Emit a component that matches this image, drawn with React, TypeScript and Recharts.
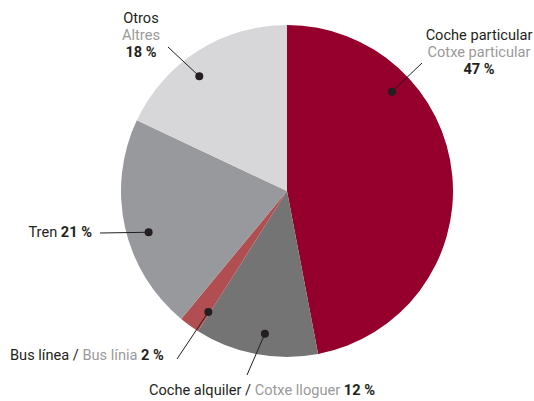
import { PieChart, Pie, Cell } from 'recharts';

// modal split, clockwise from 12 o'clock
const categories = ['Coche particular', 'Coche alquiler', 'Bus línea', 'Tren', 'Otros'];
const categoriesCa = ['Cotxe particular', 'Cotxe lloguer', 'Bus línia', '', 'Altres'];
const shares = [47, 12, 2, 21, 18];

const COLORS = ['#94002b', '#747474', '#b04e51', '#98999c', '#d7d7d9'];

const DARK = '#231f20';
const GREY = '#9a9a9a';
const FS = 14.6;

const data = categories.map((name, i) => ({ name, nameCa: categoriesCa[i], value: shares[i] }));

// where each label sits and how the leader dot is nudged off the slice's mid angle
const LABELS = [
  { angleShift: 38, end: [422, 63], layout: 'stack', x: 479, y: 40 },
  { angleShift: 2, end: [247, 375], layout: 'inline', x: 149, y: 395, anchor: 'start' },
  { angleShift: 3, end: [177, 359], layout: 'inline', x: 10, y: 360, anchor: 'start' },
  { angleShift: 4, end: [100, 233], layout: 'short', x: 92, y: 237, anchor: 'end' },
  { angleShift: 5, end: [168, 47], layout: 'stack', x: 141, y: 23 },
];

const RADIAN = Math.PI / 180;

const renderLabel = (props: any) => {
  const { cx, cy, midAngle, outerRadius, index } = props;
  const cfg = LABELS[index];
  const item = data[index];
  const a = (midAngle + cfg.angleShift) * RADIAN;
  const r = outerRadius * 0.87;
  const dx = cx + r * Math.cos(-a);
  const dy = cy + r * Math.sin(-a);

  let text;
  if (cfg.layout === 'stack') {
    text = (
      <text x={cfg.x} y={cfg.y} textAnchor="middle" fontSize={FS}>
        <tspan x={cfg.x} fill={DARK}>{item.name}</tspan>
        <tspan x={cfg.x} dy={16.8} fill={GREY}>{item.nameCa}</tspan>
        <tspan x={cfg.x} dy={16.8} fill={DARK} fontWeight="bold">{item.value} %</tspan>
      </text>
    );
  } else if (cfg.layout === 'inline') {
    text = (
      <text x={cfg.x} y={cfg.y} textAnchor={cfg.anchor} fontSize={FS}>
        <tspan fill={DARK}>{item.name} / </tspan>
        <tspan fill={GREY}>{item.nameCa} </tspan>
        <tspan fill={DARK} fontWeight="bold">{item.value} %</tspan>
      </text>
    );
  } else {
    text = (
      <text x={cfg.x} y={cfg.y} textAnchor={cfg.anchor} fontSize={FS}>
        <tspan fill={DARK}>{item.name} </tspan>
        <tspan fill={DARK} fontWeight="bold">{item.value} %</tspan>
      </text>
    );
  }

  return (
    <g key={`label-${index}`}>
      <line x1={dx} y1={dy} x2={cfg.end[0]} y2={cfg.end[1]} stroke={DARK} strokeWidth={1} />
      <circle cx={dx} cy={dy} r={4} fill={DARK} />
      {text}
    </g>
  );
};

export default function App() {
  return (
    <div style={{ position: 'absolute', left: 0, top: 0, width: 534, height: 401, background: '#fff', fontFamily: 'Roboto, sans-serif' }}>
      <PieChart width={534} height={401} margin={{ top: 0, right: 0, bottom: 0, left: 0 }}>
        <Pie
          data={data}
          dataKey="value"
          nameKey="name"
          cx={287}
          cy={191}
          outerRadius={166}
          startAngle={90}
          endAngle={-270}
          stroke="none"
          label={renderLabel}
          labelLine={false}
          isAnimationActive={false}
        >
          {data.map((d, i) => (
            <Cell key={d.name} fill={COLORS[i]} />
          ))}
        </Pie>
      </PieChart>
    </div>
  );
}
